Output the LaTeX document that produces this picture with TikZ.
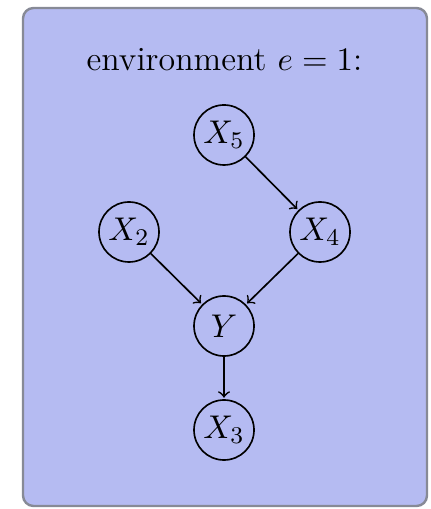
\documentclass[tikz,border=0pt]{standalone}
\begin{document}
\begin{tikzpicture}[x=0.3333pt,y=-0.3333pt,
  font=\fontsize{11.3}{13.6}\selectfont,
  var/.style={circle,draw,line width=0.55pt,minimum size=20pt,inner sep=0pt},
  edge/.style={->,line width=0.55pt,shorten >=0.5pt}]
\definecolor{envfill}{RGB}{181,187,242}
\definecolor{envborder}{RGB}{135,138,150}
\useasboundingbox (0,0) rectangle (431,509);
\draw[envborder,fill=envfill,line width=0.8pt,rounded corners=3.5pt] (23,8) rectangle (427,506);
\node[anchor=base] (title) at (224.5,71) {environment $e=1$:};
\node[var] (x5) at (224,135) {$X_5$};
\node[var] (x4) at (320,232) {$X_4$};
\node[var] (x2) at (129,232) {$X_2$};
\node[var] (y) at (224,326) {$Y$};
\node[var] (x3) at (224,430) {$X_3$};
\draw[edge] (x5) -- (x4);
\draw[edge] (x2) -- (y);
\draw[edge] (x4) -- (y);
\draw[edge] (y) -- (x3);
\end{tikzpicture}
\end{document}
